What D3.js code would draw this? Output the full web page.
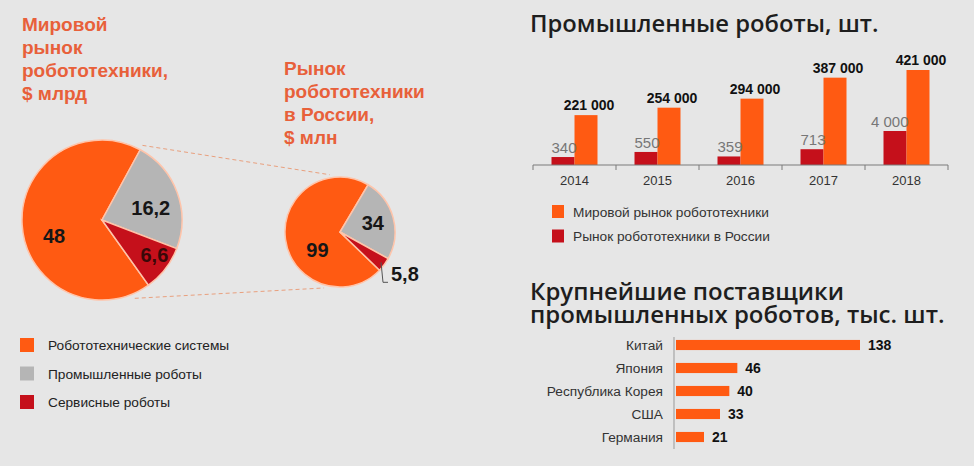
<!DOCTYPE html>
<html>
<head>
<meta charset="utf-8">
<script src="https://cdn.jsdelivr.net/npm/d3@7"></script>
<style>
  body { margin: 0; background: #e6e6e6; }
  svg { display: block; font-family: "Liberation Sans", Arial, sans-serif; }
  .title { font-family: "Open Sans", "Liberation Sans", sans-serif; font-weight: 600; fill: #1e1e1e; }
</style>
</head>
<body>
<svg id="canvas"></svg>
<script>
// ---- data ----
var segmentNames = ['Робототехнические системы', 'Промышленные роботы', 'Сервисные роботы'];
var worldMarket = [48, 16.2, 6.6];          // $ млрд
var russiaMarket = [99, 34, 5.8];           // $ млн
var worldLabels = ['48', '16,2', '6,6'];
var russiaLabels = ['99', '34', '5,8'];

var years = ['2014', '2015', '2016', '2017', '2018'];
var worldRobots = [221000, 254000, 294000, 387000, 421000];
var russiaRobots = [340, 550, 359, 713, 4000];
var worldRobotLabels = ['221 000', '254 000', '294 000', '387 000', '421 000'];
var russiaRobotLabels = ['340', '550', '359', '713', '4 000'];
var robotSeries = ['Мировой рынок робототехники', 'Рынок робототехники в России'];

var suppliers = ['Китай', 'Япония', 'Республика Корея', 'США', 'Германия'];
var supplierValues = [138, 46, 40, 33, 21];

// ---- styles ----
var width = 974, height = 466;
var orange = '#ff5a12', grey = '#b5b5b5', red = '#c5101b';
var sliceColors = [orange, grey, red];
var titleOrange = '#e8603a';

function draw() {
  var svg = d3.select('#canvas').attr('width', width).attr('height', height);
  svg.append('rect').attr('width', width).attr('height', height).attr('fill', '#e6e6e6');

  var deg = Math.PI / 180;
  var big = {cx: 102, cy: 220, r: 80, start: 144.5 * deg},
      small = {cx: 340, cy: 232, r: 55, start: 134 * deg};

  // ---- titles over the pies ----
  function multiline(x, y, lines, step) {
    var t = svg.append('text')
      .attr('x', x).attr('y', y)
      .attr('fill', titleOrange)
      .style('font-size', '19px')
      .style('font-weight', 'bold');
    t.selectAll('tspan').data(lines).enter().append('tspan')
      .attr('x', x)
      .attr('dy', function(d, i) { return i === 0 ? 0 : step; })
      .text(function(d) { return d; });
  }
  multiline(22, 31, ['Мировой', 'рынок', 'робототехники,', '$ млрд'], 23);
  multiline(284, 75, ['Рынок', 'робототехники', 'в России,', '$ млн'], 23);

  // ---- dashed connectors (outer tangents of both circles) ----
  var dx = small.cx - big.cx, dy = small.cy - big.cy,
      dist = Math.sqrt(dx * dx + dy * dy),
      theta = Math.atan2(dy, dx),
      gamma = Math.acos((small.r - big.r) / dist);
  [theta + gamma, theta - gamma].forEach(function(phi) {
    var nx = Math.cos(phi), ny = Math.sin(phi),
        p1 = [big.cx - big.r * nx, big.cy - big.r * ny],
        p2 = [small.cx - small.r * nx, small.cy - small.r * ny],
        a = 0.12, b = 0.92;
    svg.append('line')
      .attr('x1', p1[0] + (p2[0] - p1[0]) * a).attr('y1', p1[1] + (p2[1] - p1[1]) * a)
      .attr('x2', p1[0] + (p2[0] - p1[0]) * b).attr('y2', p1[1] + (p2[1] - p1[1]) * b)
      .attr('stroke', '#e9a07e')
      .attr('stroke-width', 1)
      .attr('stroke-dasharray', '4,3');
  });

  // ---- pies ----
  function pie(spec, values, labels, labelShift) {
    var layout = d3.pie().sort(null)
      .startAngle(spec.start).endAngle(spec.start + 2 * Math.PI);
    var arcs = layout(values);
    var arc = d3.arc().innerRadius(0).outerRadius(spec.r);
    var g = svg.append('g').attr('transform', 'translate(' + spec.cx + ',' + spec.cy + ')');
    g.selectAll('path').data(arcs).enter().append('path')
      .attr('d', arc)
      .attr('fill', function(d, i) { return sliceColors[i]; })
      .attr('stroke', '#ffc4aa')
      .attr('stroke-width', 1.5);
    g.selectAll('text.val').data(arcs).enter().append('text')
      .attr('class', 'val')
      .filter(function(d, i) { return labelShift[i]; })
      .attr('transform', function(d, i) {
        var s = labelShift[i],
            c = d3.arc().innerRadius(0).outerRadius(spec.r * s[0] * 2).centroid(d);
        return 'translate(' + (c[0] + s[1]) + ',' + (c[1] + s[2]) + ')';
      })
      .attr('text-anchor', 'middle')
      .attr('dy', '0.36em')
      .attr('fill', function(d, i) { return i === 2 ? '#3a0808' : '#161616'; })
      .style('font-size', '20px')
      .style('font-weight', 'bold')
      .text(function(d, i) { return labels[i]; });
    return {g: g, arcs: arcs};
  }
  pie(big, worldMarket, worldLabels, [[0.6, 0, 13], [0.65, 0, 6], [0.78, 3, -3]]);
  var sp = pie(small, russiaMarket, russiaLabels, [[0.45, 2, 15], [0.6, 1, -1], null]);

  // outside label for the small slice
  var redArc = sp.arcs[2],
      mid = (redArc.startAngle + redArc.endAngle) / 2,
      ex = small.cx + Math.sin(mid) * (small.r - 4),
      ey = small.cy - Math.cos(mid) * (small.r - 4);
  svg.append('path')
    .attr('d', 'M' + ex + ',' + ey + ' L' + (ex + 2) + ',' + (ey + 20) + ' L' + (ex + 7) + ',' + (ey + 20))
    .attr('fill', 'none')
    .attr('stroke', '#555')
    .attr('stroke-width', 1);
  svg.append('text')
    .attr('x', ex + 10).attr('y', ey + 19)
    .attr('fill', '#161616')
    .style('font-size', '20px')
    .style('font-weight', 'bold')
    .text(russiaLabels[2]);

  // ---- pie legend ----
  var leg = svg.append('g').selectAll('g').data(segmentNames).enter().append('g')
    .attr('transform', function(d, i) { return 'translate(20,' + (338 + i * 28.5) + ')'; });
  leg.append('rect').attr('width', 14).attr('height', 14)
    .attr('fill', function(d, i) { return sliceColors[i]; });
  leg.append('text').attr('x', 28).attr('y', 12)
    .attr('fill', '#222').style('font-size', '13.7px')
    .text(function(d) { return d; });

  // ---- industrial robots by year ----
  svg.append('text').attr('class', 'title')
    .attr('x', 530).attr('y', 32)
    .style('font-size', '23.8px')
    .text('Промышленные роботы, шт.');

  var y0 = 165, barW = 23;
  var x = d3.scaleBand().domain(years).range([533, 948]);
  var yWorld = d3.scaleLinear().domain([0, 421000]).range([y0, 70]);
  var yRus = d3.scaleLog().domain([160, 4000]).range([y0, 131]);

  var col = svg.append('g').selectAll('g').data(years).enter().append('g')
    .attr('transform', function(d) { return 'translate(' + (x(d) + x.bandwidth() / 2) + ',0)'; });

  col.append('rect')
    .attr('x', -barW).attr('width', barW)
    .attr('y', function(d, i) { return yRus(russiaRobots[i]); })
    .attr('height', function(d, i) { return y0 - yRus(russiaRobots[i]); })
    .attr('fill', red);
  col.append('rect')
    .attr('x', 0).attr('width', barW)
    .attr('y', function(d, i) { return yWorld(worldRobots[i]); })
    .attr('height', function(d, i) { return y0 - yWorld(worldRobots[i]); })
    .attr('fill', orange);
  col.append('text')
    .attr('x', barW / 2 + 3)
    .attr('y', function(d, i) { return yWorld(worldRobots[i]) - 5; })
    .attr('text-anchor', 'middle')
    .attr('fill', '#111')
    .style('font-size', '14px').style('font-weight', 'bold')
    .text(function(d, i) { return worldRobotLabels[i]; });
  col.append('text')
    .attr('x', 2)
    .attr('y', function(d, i) { return yRus(russiaRobots[i]) - 4; })
    .attr('text-anchor', 'end')
    .attr('fill', '#777')
    .style('font-size', '15px')
    .text(function(d, i) { return russiaRobotLabels[i]; });
  col.append('text')
    .attr('y', 185)
    .attr('text-anchor', 'middle')
    .attr('fill', '#333')
    .style('font-size', '13px')
    .text(function(d) { return d; });

  svg.append('line')
    .attr('x1', x.range()[0]).attr('x2', x.range()[1])
    .attr('y1', y0).attr('y2', y0)
    .attr('stroke', '#7a7a7a');
  svg.append('g').selectAll('line')
    .data(years.map(function(d) { return x(d); }).concat([x.range()[1]]))
    .enter().append('line')
    .attr('x1', function(d) { return d; }).attr('x2', function(d) { return d; })
    .attr('y1', y0).attr('y2', y0 + 5)
    .attr('stroke', '#7a7a7a');

  var leg2 = svg.append('g').selectAll('g').data(robotSeries).enter().append('g')
    .attr('transform', function(d, i) { return 'translate(552,' + (205 + i * 24.5) + ')'; });
  leg2.append('rect').attr('width', 12).attr('height', 13)
    .attr('fill', function(d, i) { return i === 0 ? orange : red; });
  leg2.append('text').attr('x', 21).attr('y', 11.5)
    .attr('fill', '#333').style('font-size', '13.7px')
    .text(function(d) { return d; });

  // ---- largest suppliers ----
  svg.append('text').attr('class', 'title')
    .attr('x', 530).attr('y', 300)
    .style('font-size', '24px')
    .selectAll('tspan')
    .data(['Крупнейшие поставщики', 'промышленных роботов, тыс. шт.'])
    .enter().append('tspan')
    .attr('x', 530)
    .attr('dy', function(d, i) { return i === 0 ? 0 : 23; })
    .text(function(d) { return d; });

  var hx = d3.scaleLinear().domain([0, 138]).range([676, 860]);
  var hy = d3.scaleBand().domain(suppliers).range([333.5, 448.5]).paddingInner(0.56).paddingOuter(0.28);

  svg.append('line')
    .attr('x1', 674).attr('x2', 674)
    .attr('y1', 337).attr('y2', 449)
    .attr('stroke', '#999');

  var row = svg.append('g').selectAll('g').data(suppliers).enter().append('g');
  row.append('rect')
    .attr('x', hx(0))
    .attr('y', function(d) { return hy(d); })
    .attr('height', hy.bandwidth())
    .attr('width', function(d, i) { return hx(supplierValues[i]) - hx(0); })
    .attr('fill', orange);
  row.append('text')
    .attr('x', 663)
    .attr('y', function(d) { return hy(d) + hy.bandwidth() / 2; })
    .attr('dy', '0.35em')
    .attr('text-anchor', 'end')
    .attr('fill', '#333')
    .style('font-size', '13.7px')
    .text(function(d) { return d; });
  row.append('text')
    .attr('x', function(d, i) { return hx(supplierValues[i]) + 8; })
    .attr('y', function(d) { return hy(d) + hy.bandwidth() / 2; })
    .attr('dy', '0.35em')
    .attr('fill', '#111')
    .style('font-size', '14px').style('font-weight', 'bold')
    .text(function(d, i) { return supplierValues[i]; });
}

window.onload = draw;
</script>
</body>
</html>
